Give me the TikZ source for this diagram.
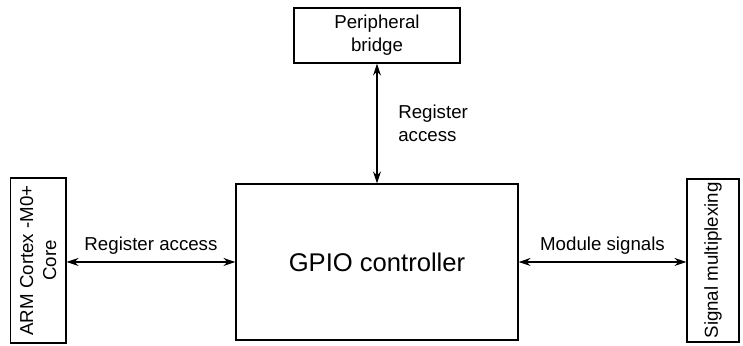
\documentclass[tikz,border=0pt]{standalone}
\usepackage{fontspec}
\setmainfont{Liberation Sans}
\usepackage{tikz}
\usetikzlibrary{positioning}
\usetikzlibrary{arrows.meta}

\begin{document}
\begin{tikzpicture}[
		blk/.style={rectangle, draw, line width=0.6pt, align=center, font=\fontsize{9.35}{11.5}\selectfont},
		vblk/.style={blk, rotate=90, inner sep=1pt},
		link/.style={line width=0.6pt, {Stealth[length=6pt,width=4pt,inset=2pt]}-{Stealth[length=6pt,width=4pt,inset=2pt]}},
		lbl/.style={font=\fontsize{9.35}{11.5}\selectfont, align=left}
	]
				\useasboundingbox (0,0) rectangle (13.057,6.063);
				
				\node[blk, minimum width=4.956cm, minimum height=2.741cm, font=\fontsize{12.8}{15}\selectfont] (gpio) at (6.625,1.459) {GPIO controller};
				\node[blk, minimum width=2.917cm, minimum height=0.967cm] (bridge) at (6.625,5.439) {Peripheral\\bridge};
				\node[vblk, minimum width=2.900cm, minimum height=0.972cm] (core) at (0.673,1.485) {ARM Cortex -M0+\\Core};
				\node[vblk, minimum width=2.864cm, minimum height=0.914cm] (mux) at (12.530,1.485) {Signal multiplexing};
				
				\draw[link]  (bridge.south) -- (gpio.north) node[midway,right=7pt,lbl] {Register\\access};
				\draw[link]  (core.south |- gpio.west) -- (gpio.west) node[midway,above,lbl] {Register access};
				\draw[link]  (gpio.east) -- (gpio.east -| mux.north) node[midway,above,lbl] {Module signals};
			\end{tikzpicture}
\end{document}
